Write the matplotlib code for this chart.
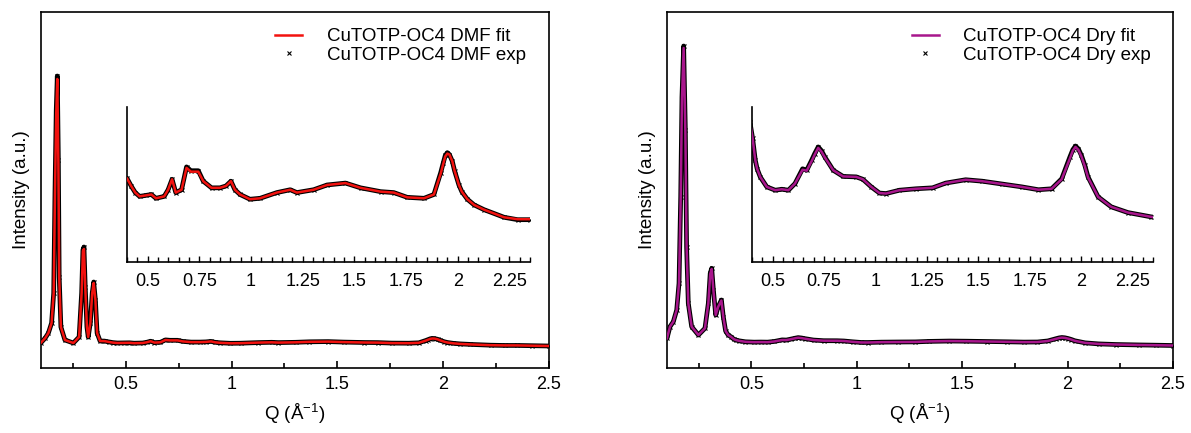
import matplotlib
matplotlib.use("Agg")
import matplotlib.pyplot as plt
from matplotlib.ticker import MultipleLocator

plt.rcParams["font.family"] = ["Liberation Sans", "DejaVu Sans"]
plt.rcParams["mathtext.fontset"] = "custom"
plt.rcParams["mathtext.rm"] = "Liberation Sans"
plt.rcParams["mathtext.it"] = "Liberation Sans"
plt.rcParams["mathtext.bf"] = "Liberation Sans"

# ---- CuTOTP-OC4 in DMF ----
q_dmf = [0.100, 0.120, 0.135, 0.150, 0.160, 0.166, 0.172, 0.177, 0.182, 0.186,
         0.194, 0.213, 0.253, 0.280, 0.292, 0.298, 0.303, 0.309, 0.317, 0.323,
         0.333, 0.342, 0.349, 0.357, 0.365, 0.379, 0.400, 0.420, 0.440, 0.461,
         0.490, 0.518, 0.540, 0.580, 0.599, 0.618, 0.636, 0.664, 0.688, 0.709,
         0.745, 0.769, 0.809, 0.850, 0.879, 0.903, 0.922, 0.947, 0.995, 1.044,
         1.125, 1.190, 1.222, 1.303, 1.368, 1.457, 1.530, 1.627, 1.691, 1.756,
         1.837, 1.885, 1.918, 1.930, 1.940, 1.950, 1.960, 1.974, 1.985, 2.006,
         2.020, 2.047, 2.080, 2.128, 2.225, 2.290, 2.350, 2.420, 2.500]
exp_dmf = [25.3, 30, 35, 45, 75, 175, 258, 292, 208, 91,
           41, 28, 25, 31, 75, 118, 121, 81, 41, 31,
           45, 75, 86, 68, 35, 27, 26.9, 26.1, 25.4, 25.0,
           25.1, 25.2, 24.8, 25.0, 25.7, 26.8, 25.4, 25.7, 28.1, 27.7,
           27.7, 26.6, 25.9, 25.9, 26.1, 26.6, 25.7, 25.2, 24.7, 24.8,
           25.4, 25.7, 25.4, 25.7, 26.2, 26.4, 25.9, 25.5, 25.4, 24.9,
           24.8, 25.2, 27.5, 28.5, 29.3, 29.6, 29.4, 28.7, 27.7, 26.2,
           25.5, 24.7, 24.1, 23.6, 22.8, 22.55, 22.55, 22.3, 22.0]
fit_dmf = [25.3, 30, 35, 45, 75, 174, 255, 289, 207, 91,
           41, 28, 25, 31, 75, 117, 119, 81, 41, 31,
           45, 75, 85, 68, 35, 27, 26.9, 26.1, 25.4, 25.0,
           25.1, 25.2, 24.8, 25.0, 25.7, 26.8, 25.4, 25.7, 28.0, 27.6,
           27.6, 26.6, 25.9, 25.9, 26.1, 26.6, 25.7, 25.2, 24.7, 24.8,
           25.4, 25.7, 25.4, 25.7, 26.2, 26.4, 25.9, 25.5, 25.4, 24.9,
           24.8, 25.2, 27.4, 28.4, 29.2, 29.5, 29.4, 28.7, 27.7, 26.2,
           25.5, 24.7, 24.1, 23.6, 22.8, 22.6, 22.6, 22.3, 22.0]

# ---- CuTOTP-OC4 dry ----
q_dry = [0.100, 0.114, 0.130, 0.146, 0.157, 0.165, 0.171, 0.179, 0.187, 0.193,
         0.201, 0.217, 0.249, 0.280, 0.296, 0.305, 0.312, 0.320, 0.331, 0.343,
         0.358, 0.367, 0.378, 0.390, 0.403, 0.416, 0.425, 0.440, 0.472, 0.513,
         0.545, 0.577, 0.609, 0.646, 0.666, 0.690, 0.705, 0.722, 0.738, 0.754,
         0.795, 0.843, 0.907, 0.939, 0.980, 1.020, 1.052, 1.117, 1.197, 1.278,
         1.342, 1.439, 1.519, 1.616, 1.712, 1.793, 1.857, 1.906, 1.946, 1.960,
         1.973, 1.987, 2.002, 2.018, 2.034, 2.083, 2.147, 2.228, 2.340, 2.420,
         2.500]
exp_dry = [29.7, 41.3, 46.3, 58, 84.7, 171, 271, 322, 238, 121,
           64.7, 41.3, 33, 39.7, 64.7, 94.7, 99.7, 78, 53, 61.3,
           68, 51.3, 37, 33, 31.3, 29.0, 28.1, 27.25, 26.2, 25.85,
           25.95, 25.85, 26.55, 28.1, 27.95, 29.0, 29.7, 30.4, 30.0, 29.35,
           27.95, 27.3, 27.25, 27.0, 26.2, 25.55, 25.5, 25.85, 26.0, 26.1,
           26.6, 26.95, 26.8, 26.5, 26.2, 25.9, 26.0, 27.05, 29.35, 30.1,
           30.5, 30.2, 29.5, 28.5, 27.25, 25.15, 24.1, 23.5, 23.05, 22.8,
           22.5]
fit_dry = [29.7, 41.3, 46.3, 58, 84.7, 170, 269, 320, 237, 121,
           64.7, 41.3, 33, 39.7, 64.7, 94.0, 99.0, 78, 53, 61.3,
           67.5, 51.3, 37, 33, 31.3, 29.0, 28.1, 27.25, 26.2, 25.85,
           25.95, 25.85, 26.55, 28.0, 27.9, 28.9, 29.6, 30.3, 29.9, 29.3,
           27.95, 27.3, 27.25, 27.0, 26.2, 25.55, 25.5, 25.85, 26.0, 26.1,
           26.6, 26.95, 26.8, 26.5, 26.2, 25.9, 26.0, 27.0, 29.2, 30.0,
           30.4, 30.1, 29.4, 28.4, 27.2, 25.15, 24.1, 23.5, 23.05, 22.8,
           22.5]

panels = [
    dict(q=q_dmf, exp=exp_dmf, fit=fit_dmf, color="#f2120f",
         fit_label="CuTOTP-OC4 DMF fit", exp_label="CuTOTP-OC4 DMF exp",
         main=[41, 508], inset=[127, 403], inset_ylim=(18.1, 34.4),
         legend_x=0.461),
    dict(q=q_dry, exp=exp_dry, fit=fit_dry, color="#a8168c",
         fit_label="CuTOTP-OC4 Dry fit", exp_label="CuTOTP-OC4 Dry exp",
         main=[667, 506], inset=[752, 401], inset_ylim=(18.3, 34.6),
         legend_x=0.484),
]

W, H = 1191, 433
fig = plt.figure(figsize=(W / 100, H / 100), dpi=100)
FS = 13


def draw_series(ax, p, band_lw, fit_lw, with_labels):
    ax.plot(p["q"], p["exp"], color="black", lw=band_lw, solid_capstyle="round",
            solid_joinstyle="round", zorder=2)
    ax.plot(p["q"], p["exp"], ls="none", marker="x", ms=3, mew=0.8, color="black",
            zorder=3, label=p["exp_label"] if with_labels else None)
    ax.plot(p["q"], p["fit"], color=p["color"], lw=fit_lw, zorder=4,
            solid_joinstyle="round",
            label=p["fit_label"] if with_labels else None)


for p in panels:
    x0, w = p["main"]
    ax = fig.add_axes([x0 / W, (H - 368) / H, w / W, 356 / H])
    draw_series(ax, p, 3.4, 1.8, True)
    ax.set_xlim(0.1, 2.5)
    ax.set_ylim(0, 356)
    ax.set_yticks([])
    ax.xaxis.set_major_locator(MultipleLocator(0.5))
    ax.xaxis.set_minor_locator(MultipleLocator(0.25))
    ax.set_xticks([0.5, 1.0, 1.5, 2.0, 2.5])
    ax.set_xticklabels(["0.5", "1", "1.5", "2", "2.5"])
    ax.tick_params(axis="x", which="major", direction="in", length=5, width=1.2,
                   pad=6, labelsize=FS)
    ax.tick_params(axis="x", which="minor", direction="in", length=3.5, width=1.2)
    for s in ax.spines.values():
        s.set_linewidth(1.2)
    ax.set_xlabel(r"Q (Å$^{-1}$)", fontsize=FS + 0.5, labelpad=6)
    ax.set_ylabel("Intensity (a.u.)", fontsize=FS + 0.5, labelpad=8)

    handles, labels = ax.get_legend_handles_labels()
    order = [labels.index(p["fit_label"]), labels.index(p["exp_label"])]
    ax.legend([handles[i] for i in order], [labels[i] for i in order],
              loc="upper left", bbox_to_anchor=(p["legend_x"], 0.955),
              frameon=False, fontsize=FS + 0.5, borderpad=0, borderaxespad=0,
              handlelength=1.45, handletextpad=1.3, labelspacing=0.08)

    ix0, iw = p["inset"]
    ins = fig.add_axes([ix0 / W, (H - 262) / H, iw / W, 155 / H])
    draw_series(ins, p, 3.4, 1.8, False)
    ins.set_xlim(0.4, 2.35)
    ins.set_ylim(*p["inset_ylim"])
    ins.set_yticks([])
    ins.spines["top"].set_visible(False)
    ins.spines["right"].set_visible(False)
    for s in ("left", "bottom"):
        ins.spines[s].set_linewidth(1.2)
    ins.set_xticks([0.5, 0.75, 1.0, 1.25, 1.5, 1.75, 2.0, 2.25])
    ins.set_xticklabels(["0.5", "0.75", "1", "1.25", "1.5", "1.75", "2", "2.25"])
    ins.xaxis.set_minor_locator(MultipleLocator(0.05))
    ins.tick_params(axis="x", which="major", direction="in", length=4.5, width=1.0,
                    pad=8, labelsize=FS)
    ins.tick_params(axis="x", which="minor", direction="in", length=3.5, width=1.0)
    ins.patch.set_alpha(0)

fig.savefig("out.png", dpi=100)
